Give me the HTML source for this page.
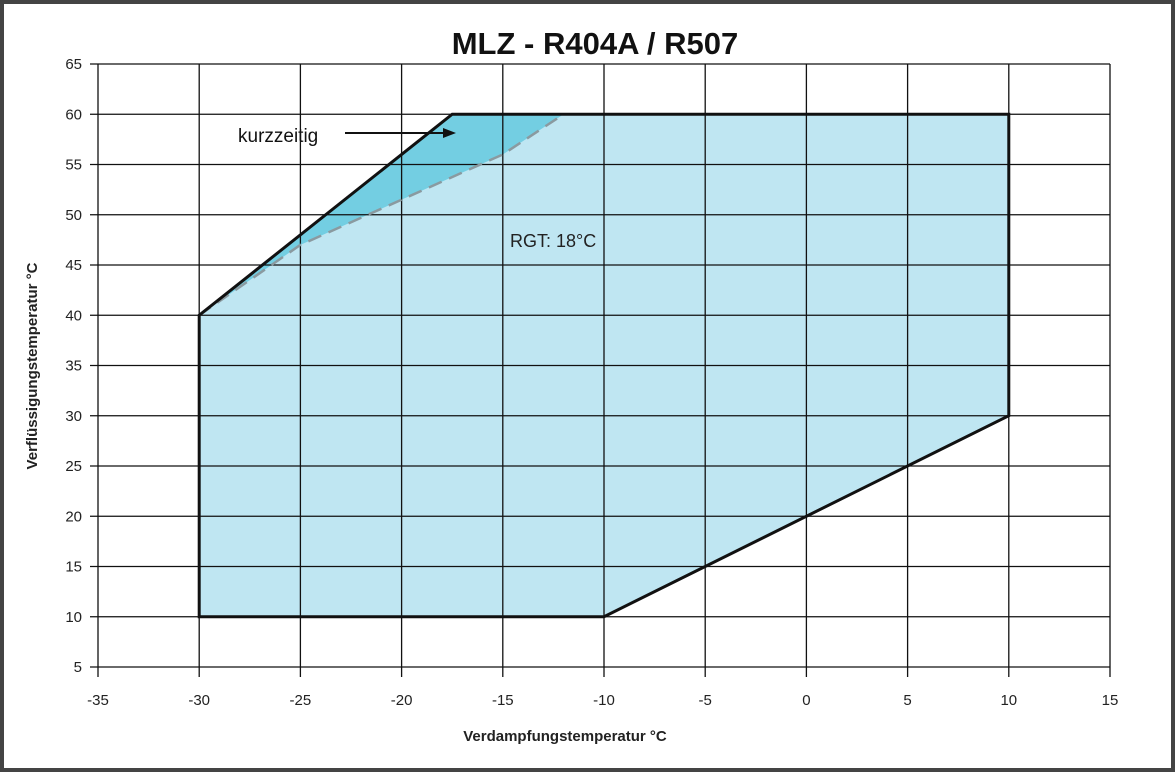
<!DOCTYPE html>
<html><head><meta charset="utf-8"><style>
html,body{margin:0;padding:0;background:#fff}
svg{display:block;font-family:"Liberation Sans","DejaVu Sans",sans-serif}
</style></head><body>
<svg id="chart" width="1175" height="772" viewBox="0 0 1175 772">
<rect x="2" y="2" width="1171" height="768" fill="#fff" stroke="#444" stroke-width="4"/>
<text x="595" y="54" text-anchor="middle" font-size="31" font-weight="bold" fill="#111">MLZ - R404A / R507</text>
<g id="grid"></g>
<g id="area"></g>
<g id="ticks"></g>
<text x="238" y="142" font-size="19" fill="#111">kurzzeitig</text>
<line x1="345" y1="133" x2="445" y2="133" stroke="#111" stroke-width="2"/>
<polygon points="456,133 443,128 443,138" fill="#111"/>
<text x="510" y="247" font-size="18" fill="#222">RGT: 18°C</text>
<text x="565" y="741" text-anchor="middle" font-size="15" font-weight="bold" fill="#222">Verdampfungstemperatur °C</text>
<text transform="translate(37,366) rotate(-90)" text-anchor="middle" font-size="15" font-weight="bold" fill="#222">Verflüssigungstemperatur °C</text>
</svg>
<script>
const xTicks=[-35,-30,-25,-20,-15,-10,-5,0,5,10,15];
const yTicks=[5,10,15,20,25,30,35,40,45,50,55,60,65];
const envX=[-30,-10,10,10,-17.5,-30];
const envY=[10,10,30,60,60,40];
const dashX=[-30,-25,-20,-15,-12];
const dashY=[40,47,51.5,56,60];
const X=v=>98+(v+35)*20.24;
const Y=v=>667-(v-5)*10.05;
const NS="http://www.w3.org/2000/svg";
function mk(t,a,p){const e=document.createElementNS(NS,t);for(const k in a)e.setAttribute(k,a[k]);p.appendChild(e);return e;}
const grid=document.getElementById('grid'),area=document.getElementById('area'),ticks=document.getElementById('ticks');
xTicks.forEach(v=>{const l=mk('line',{x1:X(v),x2:X(v),y1:Y(65),y2:Y(5)+10,stroke:'#111','stroke-width':1.3},grid);

const t=mk('text',{x:X(v),y:705,'text-anchor':'middle','font-size':15,fill:'#222'},ticks);t.textContent=v;
});
yTicks.forEach(v=>{const l=mk('line',{x1:X(-35)-8,x2:X(15),y1:Y(v),y2:Y(v),stroke:'#111','stroke-width':1.3},grid);

const t=mk('text',{x:82,y:Y(v)+5,'text-anchor':'end','font-size':15,fill:'#222'},ticks);t.textContent=v;
});
const envPts=envX.map((x,i)=>X(x)+','+Y(envY[i])).join(' ');
const p1=mk('polygon',{points:envPts,fill:'#6ccbe0','fill-opacity':0.95},area);

// normal area: envelope with dashed line replacing upper-left edge
let norm=[[-30,10],[-10,10],[10,30],[10,60]];
for(let i=dashX.length-1;i>=0;i--)norm.push([dashX[i],dashY[i]]);
const p2=mk('polygon',{points:norm.map(p=>X(p[0])+','+Y(p[1])).join(' '),fill:'#bfe6f2'},area);

// redraw grid over fill
grid.parentNode.insertBefore(area,grid);
const d=mk('polyline',{points:dashX.map((x,i)=>X(x)+','+Y(dashY[i])).join(' '),fill:'none',stroke:'#8a9aa0','stroke-width':2.5,'stroke-dasharray':'14,8'},document.getElementById('chart'));

const o=mk('polygon',{points:envPts,fill:'none',stroke:'#111','stroke-width':3},document.getElementById('chart'));

</script>
</body></html>
